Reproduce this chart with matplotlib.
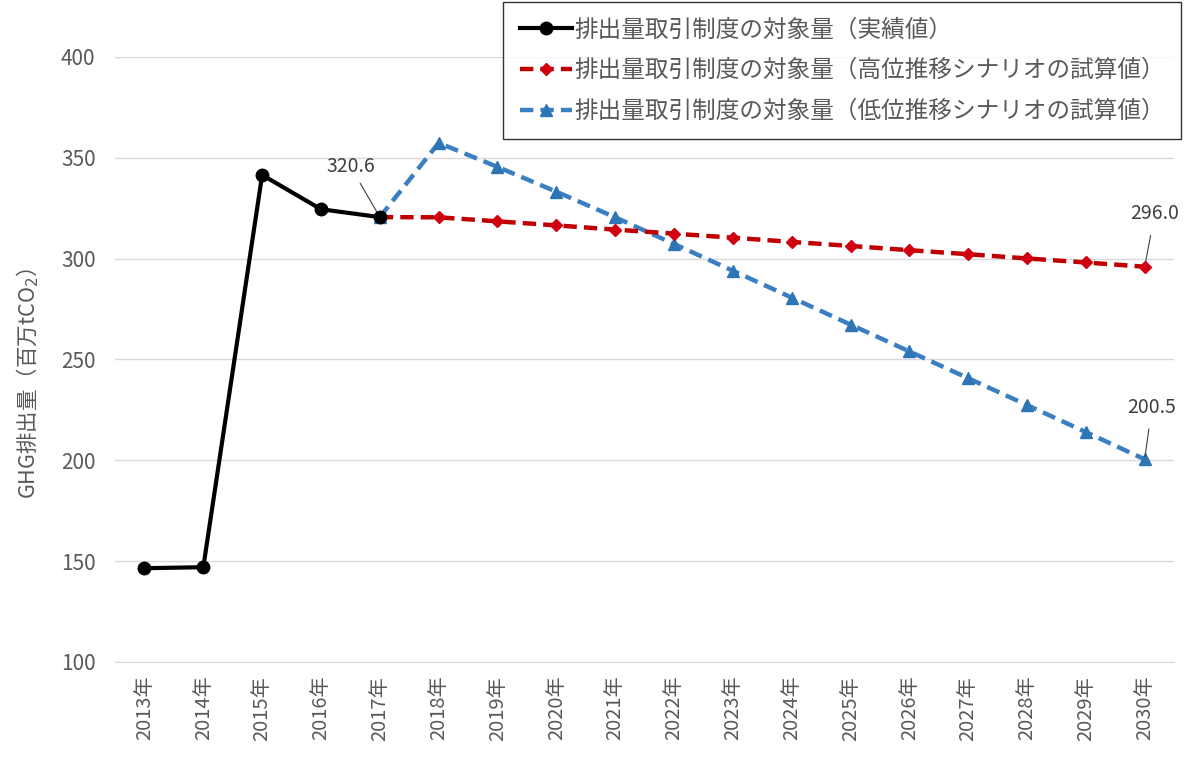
import matplotlib
matplotlib.use("Agg")
import matplotlib.pyplot as plt

plt.rcParams['font.family'] = ['Noto Sans CJK JP', 'DejaVu Sans']

years = list(range(2013, 2031))
year_labels = [f"{y}年" for y in years]

# 実績値 2013-2017
actual_years = [2013, 2014, 2015, 2016, 2017]
actual = [146.5, 147.0, 341.5, 324.5, 320.6]

# 試算値 2017-2030
scen_years = list(range(2017, 2031))
high = [320.6, 320.5, 318.5, 316.5, 314.4, 312.4, 310.4, 308.3, 306.3,
        304.2, 302.2, 300.1, 298.1, 296.0]
low = [320.6, 357.4, 345.5, 333.2, 320.5, 307.3, 294.0, 280.7, 267.3,
       254.0, 240.7, 227.4, 214.0, 200.5]

labels = ["排出量取引制度の対象量（実績値）",
          "排出量取引制度の対象量（高位推移シナリオの試算値）",
          "排出量取引制度の対象量（低位推移シナリオの試算値）"]

gray = "#595959"

fig = plt.figure(figsize=(11.96, 7.66), dpi=100)
ax = fig.add_axes([0.0962, 0.1358, 0.8855, 0.7898])

def xi(y):
    return y - 2013

ax.plot([xi(y) for y in scen_years], low, color="#3A7FC1", lw=3.2,
        ls=(0, (3, 1.6)), marker="^", ms=8, mfc="#2E75B6", mec="#2E75B6",
        label=labels[2], zorder=3)
ax.plot([xi(y) for y in scen_years], high, color="#C00000", lw=3.2,
        ls=(0, (3, 1.6)), marker="D", ms=6, mfc="#D00010", mec="#D00010",
        label=labels[1], zorder=4)
ax.plot([xi(y) for y in actual_years], actual, color="black", lw=3,
        marker="o", ms=9, label=labels[0], zorder=5)

ax.set_xlim(-0.5, len(years) - 0.5)
ax.set_ylim(100, 400)
ax.set_yticks(range(100, 401, 50))
ax.set_xticks(range(len(years)))
ax.set_xticklabels(year_labels, rotation=90)
ax.tick_params(axis="both", length=0, colors=gray, labelsize=15)
ax.tick_params(axis="y", pad=14)
ax.tick_params(axis="x", pad=10, labelsize=14.5)
ax.grid(axis="y", color="#D9D9D9", lw=1)
ax.set_axisbelow(True)
for s in ["top", "right", "left"]:
    ax.spines[s].set_visible(False)
ax.spines["bottom"].set_color("#D9D9D9")

ax.set_ylabel("GHG排出量（百万tCO$_2$）", color=gray, fontsize=15.5)
ax.yaxis.set_label_coords(-0.070, 0.461)

# 値ラベル
def value_label(x, y, text, dx, dy, shrink):
    ax.annotate(text, xy=(x, y), xytext=(x + dx, y + dy), color="#404040",
                fontsize=14, ha="center", va="bottom",
                arrowprops=dict(arrowstyle="-", color="#404040", lw=0.8,
                                shrinkA=shrink, shrinkB=2))

value_label(xi(2017), actual[-1], f"{actual[-1]:.1f}", -0.5, 20, 3)
value_label(xi(2030), high[-1], f"{high[-1]:.1f}", 0.17, 21, 6)
value_label(xi(2030), low[-1], f"{low[-1]:.1f}", 0.12, 20.5, 6)

handles, labs = ax.get_legend_handles_labels()
order = [2, 1, 0]
leg = fig.legend([handles[i] for i in order], [labs[i] for i in order],
                 loc="upper left", bbox_to_anchor=(0.4206, 0.9974),
                 frameon=True, fancybox=False, edgecolor="black",
                 fontsize=17, handlelength=2.2, labelspacing=0.75,
                 borderpad=0.7, handletextpad=0.12, borderaxespad=0)
leg.get_frame().set_linewidth(1.0)
for t in leg.get_texts():
    t.set_color(gray)

fig.savefig("out.png", dpi=100, facecolor="white")
